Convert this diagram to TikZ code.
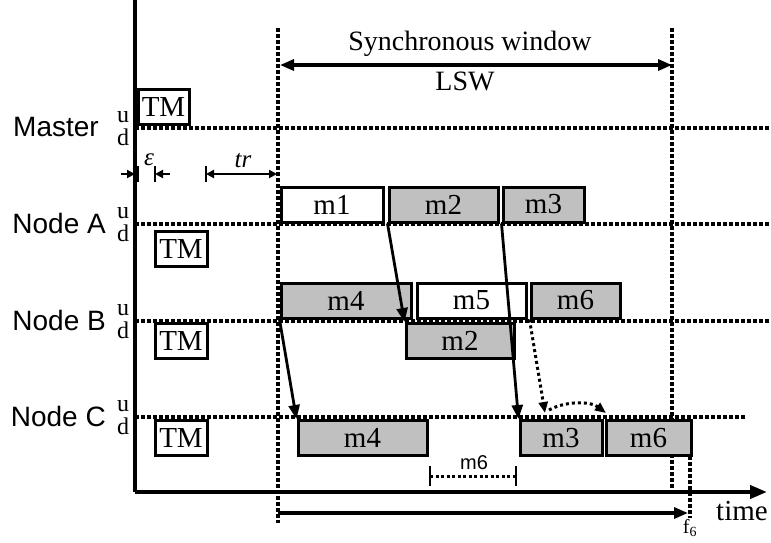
\documentclass[tikz,border=0pt]{standalone}
\usepackage{fontspec}
\setmainfont{Liberation Serif}
\setsansfont{Liberation Sans}
\usetikzlibrary{arrows.meta}
\definecolor{boxgray}{RGB}{192,192,192}
\begin{document}
\begin{tikzpicture}[x=1pt,y=-1pt,
 msg/.style={draw,line width=3pt,inner sep=0pt,minimum height=35pt,font=\fontsize{29}{29}\selectfont},
 gmsg/.style={msg,fill=boxgray},
 wmsg/.style={msg,fill=white},
 lbl/.style={font=\sffamily\fontsize{28}{28}\selectfont,anchor=east,inner sep=0pt},
 ud/.style={font=\fontsize{24}{24}\selectfont,inner sep=0pt},
 dotl/.style={line width=3.5pt,dash pattern=on 3.5pt off 2.5pt},
 arr/.style={line width=2.8pt,-{Triangle[length=14pt,width=11pt]}},
 darr/.style={line width=3pt,dash pattern=on 3pt off 3pt,-{Triangle[length=11pt,width=9pt]}},
 sarr/.style={line width=2.5pt,-{Triangle[length=8pt,width=8pt]}},
 thick3/.style={line width=3.2pt},
]
\useasboundingbox (0,0) rectangle (771,542);

% coordinates
\coordinate (axtop) at (135,0);
\coordinate (org) at (135,492);
\coordinate (tend) at (767,492);

% window lines
\coordinate (wlt) at (278,28);
\coordinate (wlb) at (278,523);
\coordinate (wrt) at (672,28);
\coordinate (wrb) at (672,492);
\draw[dotl] (wlt) -- (wlb);
\draw[dotl] (wrt) -- (wrb);

% horizontal time lines
\coordinate (mL) at (135,128); \coordinate (mR) at (771,128);
\coordinate (aL) at (135,224); \coordinate (aR) at (771,224);
\coordinate (bL) at (135,321); \coordinate (bR) at (771,321);
\coordinate (cL) at (135,417); \coordinate (cR) at (745,417);
\draw[dotl] (mL) -- (mR);
\draw[dotl] (aL) -- (aR);
\draw[dotl] (bL) -- (bR);
\draw[dotl] (cL) -- (cR);

% f6 line
\coordinate (f6t) at (690,456);
\coordinate (f6b) at (690,518);
\draw[dotl] (f6t) -- (f6b);

% axes
\draw[line width=4pt] (axtop) -- (org);
\draw[line width=4pt,-{Triangle[length=17pt,width=13pt]}] (org) -- (tend);
\node[font=\fontsize{29}{29}\selectfont,inner sep=0pt] (time) at (742,511) {time};

% bottom arrow
\coordinate (bas) at (278,513);
\coordinate (bae) at (688,513);
\draw[thick3,-{Triangle[length=14pt,width=11pt]}] (bas) -- (bae);
\node[font=\fontsize{20}{20}\selectfont,inner sep=0pt] (f6) at (690,528) {f\textsubscript{6}};

% synchronous window
\coordinate (swl) at (280,65);
\coordinate (swr) at (672,65);
\draw[thick3,{Triangle[length=14pt,width=11pt]}-{Triangle[length=14pt,width=11pt]}] (swl) -- (swr);
\node[font=\fontsize{28}{28}\selectfont,inner sep=0pt] (sw) at (470,44) {Synchronous window};
\node[font=\fontsize{28}{28}\selectfont,inner sep=0pt,anchor=north] (lsw) at (465,71.5) {LSW};

% row labels
\node[lbl] (lm) at (99,127) {Master};
\node[lbl] (la) at (106,223) {Node A};
\node[lbl] (lb) at (106,320) {Node B};
\node[lbl] (lc) at (106,416) {Node C};
\foreach \n/\y in {m/128,a/224,b/321,c/417}{
  \node[ud] (u\n) at (123,\y-11) {u};
  \node[ud] (d\n) at (123,\y+9) {d};
}

% TM boxes
\node[wmsg,minimum width=51pt] (tmm) at (163.5,107) {TM};
\node[wmsg,minimum width=52pt] (tma) at (181,249) {TM};
\node[wmsg,minimum width=52pt] (tmb) at (181,341) {TM};
\node[wmsg,minimum width=52pt] (tmc) at (181,438) {TM};

% epsilon and tr
\coordinate (e1s) at (121,174); \coordinate (e1e) at (135,174);
\draw[sarr] (e1s) -- (e1e);
\coordinate (e1bt) at (138,166); \coordinate (e1bb) at (138,182);
\draw[line width=2.5pt] (e1bt) -- (e1bb);
\coordinate (e2s) at (170,174); \coordinate (e2e) at (155,174);
\draw[sarr] (e2s) -- (e2e);
\coordinate (e2bt) at (155,166); \coordinate (e2bb) at (155,182);
\draw[line width=2.5pt] (e2bt) -- (e2bb);
\node[font=\itshape\fontsize{25}{25}\selectfont,inner sep=0pt] (eps) at (149,160) {ε};
\coordinate (trs) at (206,174); \coordinate (tre) at (277,174);
\coordinate (trbt) at (206,166); \coordinate (trbb) at (206,182);
\draw[line width=2.5pt] (trbt) -- (trbb);
\draw[line width=2.5pt,{Triangle[length=8pt,width=8pt]}-{Triangle[length=8pt,width=8pt]}] (trs) -- (tre);
\node[font=\itshape\fontsize{25}{25}\selectfont,inner sep=0pt] (tr) at (243,161) {tr};

% Node A messages
\node[wmsg,minimum width=102pt] (m1a) at (332,204.5) {m1};
\node[gmsg,minimum width=109pt] (m2a) at (443.5,204.5) {m2};
\node[gmsg,minimum width=81pt] (m3a) at (543.5,204.5) {m3};

% Node B messages
\node[gmsg,minimum width=130pt] (m4b) at (346,300.5) {m4};
\node[wmsg,minimum width=109pt] (m5b) at (471.5,300.5) {m5};
\node[gmsg,minimum width=89pt] (m6b) at (575.5,300.5) {m6};
\node[gmsg,minimum width=108pt] (m2b) at (460,341) {m2};

% Node C messages
\node[gmsg,minimum width=129pt] (m4c) at (362.5,438) {m4};
\node[gmsg,minimum width=82pt] (m3c) at (561,438) {m3};
\node[gmsg,minimum width=85pt] (m6c) at (648.5,438) {m6};

% transmission arrows
\draw[arr] (m4b.south west) -- (m4c.north west);
\draw[arr] (m2a.south west) -- (m2b.north west);
\draw[arr] (m3a.south west) -- (m3c.north west);
\coordinate (m6tip) at (545,413);
\draw[darr] (m6b.south west) -- (m6tip);
\coordinate (arcs) at (549,410);
\coordinate (arce) at (606,413);
\draw[darr] (arcs) .. controls (565,401) and (590,401) .. (arce);

% m6 interval
\coordinate (i1t) at (430,466); \coordinate (i1b) at (430,486);
\coordinate (i2t) at (516,466); \coordinate (i2b) at (516,486);
\coordinate (i1m) at (430,476); \coordinate (i2m) at (516,476);
\draw[line width=2.5pt] (i1t) -- (i1b);
\draw[line width=2.5pt] (i2t) -- (i2b);
\draw[line width=3pt,dash pattern=on 3pt off 2.5pt] (i1m) -- (i2m);
\node[font=\sffamily\fontsize{20}{20}\selectfont,inner sep=0pt] (m6i) at (474,463) {m6};
\end{tikzpicture}
\end{document}
